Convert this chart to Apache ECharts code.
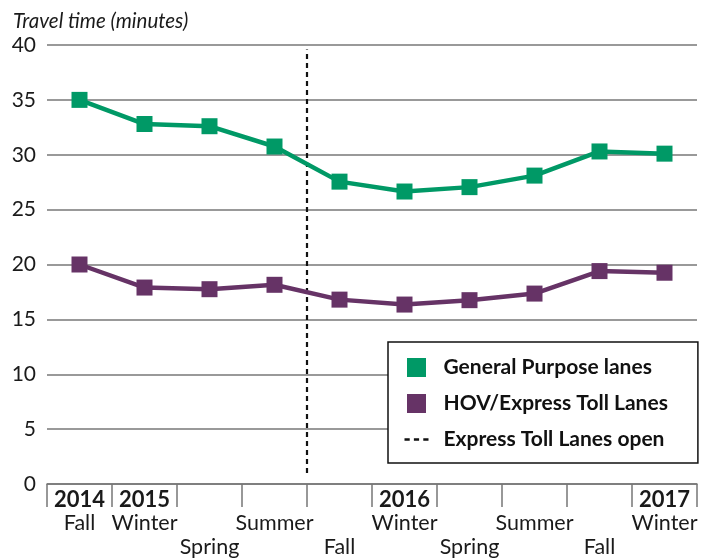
<!DOCTYPE html>
<html>
<head>
<meta charset="utf-8">
<script src="https://cdn.jsdelivr.net/npm/echarts@6/dist/echarts.min.js"></script>
<style>html,body{margin:0;padding:0;background:#fff}#c{width:702px;height:560px}</style>
</head>
<body>
<div id="c"></div>
<script>
var seasons = ['Fall','Winter','Spring','Summer','Fall','Winter','Spring','Summer','Fall','Winter'];
var years = ['2014','2015','','','','2016','','','','2017'];
var generalPurpose = [35.0, 32.8, 32.6, 30.75, 27.55, 26.65, 27.05, 28.1, 30.3, 30.1];
var hovExpress = [20.0, 17.9, 17.75, 18.15, 16.8, 16.35, 16.75, 17.35, 19.4, 19.25];
var openingPosition = 3.5;
var openingLineRange = [1.0, 39.6];
var yTicks = {min: 0, max: 40, interval: 5};
var seriesNames = ['General Purpose lanes', 'HOV/Express Toll Lanes', 'Express Toll Lanes open'];

var GREEN = '#009966';
var PURPLE = '#663366';
var FONT = 'Lato';

var chart = echarts.init(document.getElementById('c'), null, {renderer: 'canvas'});
chart.setOption({
  animation: false,
  backgroundColor: '#fff',
  textStyle: {fontFamily: FONT},
  title: {
    text: 'Travel time (minutes)',
    left: 8, top: 6,
    textStyle: {fontFamily: FONT, fontStyle: 'italic', fontWeight: 'normal', fontSize: 20.5, color: '#1a1a1a'}
  },
  grid: {left: 47, right: 5, top: 45, bottom: 76, containLabel: false},
  xAxis: [{
    type: 'category',
    data: seasons,
    boundaryGap: true,
    axisLine: {lineStyle: {color: '#777', width: 1.5}},
    axisTick: {show: true, length: 23, interval: 0, lineStyle: {color: '#777', width: 1.5}},
    axisLabel: {
      interval: 0,
      margin: 5,
      color: '#1a1a1a',
      formatter: function (v, i) {
        var y = years[i];
        var low = (!y && i % 2 === 0);
        return '{y|' + (y || ' ') + '}\n' + (low ? '{s| }\n{s|' + v + '}' : '{s|' + v + '}\n{s| }');
      },
      rich: {
        y: {fontFamily: FONT, fontWeight: 'bold', fontSize: 22, lineHeight: 22, color: '#1a1a1a'},
        s: {fontFamily: FONT, fontSize: 21.5, lineHeight: 24, color: '#1a1a1a'}
      }
    }
  }, {
    type: 'value',
    min: -0.5, max: 9.5,
    show: false
  }],
  yAxis: {
    type: 'value',
    min: yTicks.min, max: yTicks.max, interval: yTicks.interval,
    axisLine: {show: false},
    axisTick: {show: false},
    axisLabel: {margin: 11, fontFamily: FONT, fontSize: 21, color: '#1a1a1a'},
    splitLine: {lineStyle: {color: '#777', width: 1.5}}
  },
  legend: {
    orient: 'vertical',
    left: 388, top: 342,
    padding: [15, 30, 13, 16.5],
    itemGap: 15,
    itemWidth: 24, itemHeight: 19,
    symbolKeepAspect: true,
    backgroundColor: '#fff',
    borderColor: '#111', borderWidth: 1.5, borderRadius: 0,
    textStyle: {fontFamily: FONT, fontWeight: 'bold', fontSize: 21, lineHeight: 19, color: '#111', padding: [0, 0, 0, 10]},
    data: [
      {name: seriesNames[0], icon: 'path://M0,0h10v10h-10z', itemStyle: {color: GREEN}},
      {name: seriesNames[1], icon: 'path://M0,0h10v10h-10z', itemStyle: {color: PURPLE}},
      {name: seriesNames[2], icon: 'path://M0,0h5v2.4h-5zM9,0h5v2.4h-5zM18,0h5v2.4h-5z', itemStyle: {color: '#111'}}
    ]
  },
  series: [{
    name: seriesNames[0],
    type: 'line',
    data: generalPurpose,
    symbol: 'rect', symbolSize: 16,
    itemStyle: {color: GREEN},
    lineStyle: {color: GREEN, width: 4.5},
    z: 3
  }, {
    name: seriesNames[1],
    type: 'line',
    data: hovExpress,
    symbol: 'rect', symbolSize: 16,
    itemStyle: {color: PURPLE},
    lineStyle: {color: PURPLE, width: 4.5},
    z: 3
  }, {
    name: seriesNames[2],
    type: 'line',
    xAxisIndex: 1,
    data: [[openingPosition, openingLineRange[0]], [openingPosition, openingLineRange[1]]],
    symbol: 'none',
    itemStyle: {color: '#111'},
    lineStyle: {color: '#111', width: 2.2, type: [5, 4]},
    z: 2
  }]
});
</script>
</body>
</html>
